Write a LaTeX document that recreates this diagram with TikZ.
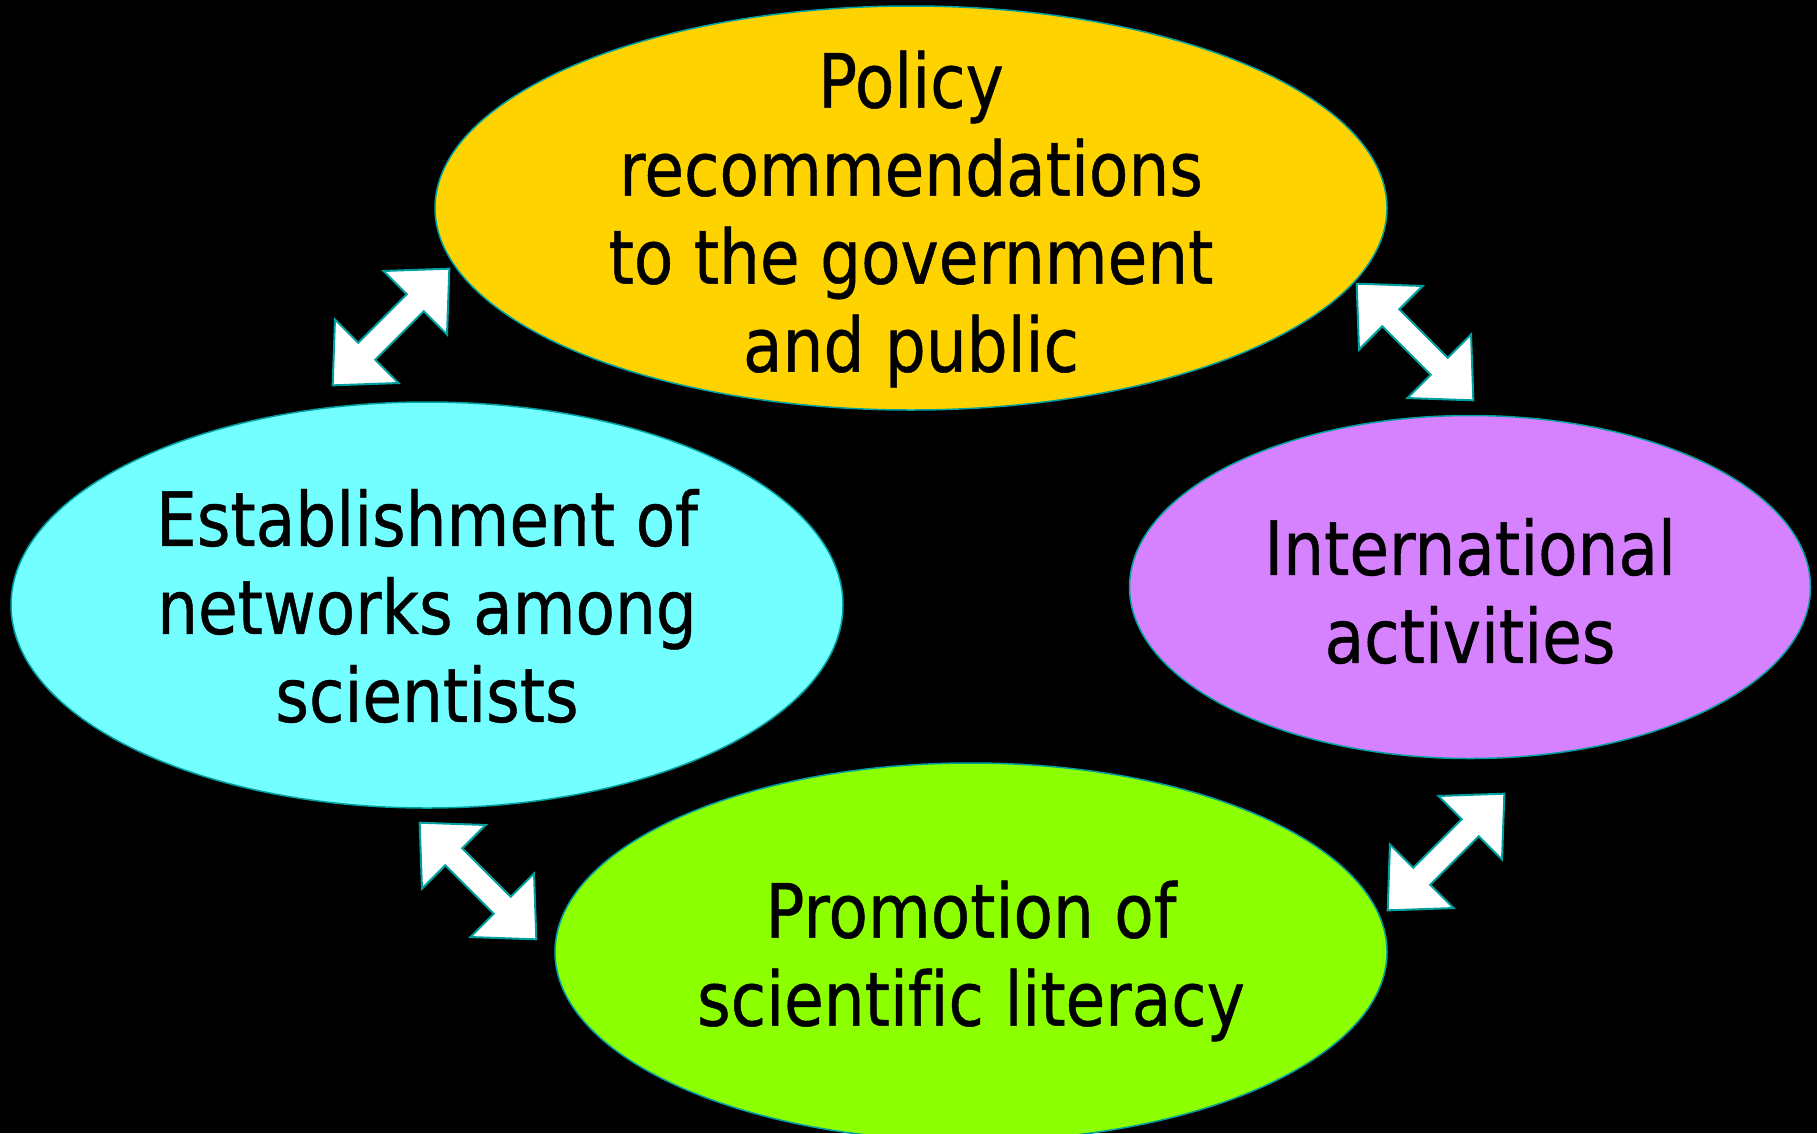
\documentclass[tikz,border=0pt]{standalone}
\usepackage{fontspec}
\setmainfont[FakeStretch=0.86,FakeBold=0.6,Ligatures=NoCommon]{DejaVu Sans}
\usetikzlibrary{shapes.geometric,shapes.arrows}
\definecolor{rim}{RGB}{0,160,160}
\definecolor{sun}{RGB}{255,211,0}
\definecolor{sky}{RGB}{115,255,255}
\definecolor{lilac}{RGB}{214,130,255}
\definecolor{lime}{RGB}{140,255,0}

\begin{document}
\begin{tikzpicture}[x=1pt,y=-1pt,
  blob/.style={ellipse,draw=rim,line width=1.5pt,inner sep=0pt},
  caption/.style={align=center,inner sep=0pt,font=\fontsize{75}{88}\selectfont},
  link/.style={double arrow,draw=rim,line width=2pt,fill=white,inner sep=11pt,
    minimum width=88pt,minimum height=165pt,
    double arrow head extend=33pt,double arrow tip angle=86}]
\useasboundingbox (0,0) rectangle (1817,1133);
\fill[black] (0,0) rectangle (1817,1133);
% ellipses
\node[blob,fill=sun,minimum width=952pt,minimum height=404pt] (policy) at (911,208) {};
\node[blob,fill=sky,minimum width=832pt,minimum height=406pt] (network) at (427,605) {};
\node[blob,fill=lilac,minimum width=681pt,minimum height=343pt] (intl) at (1470,587) {};
\node[blob,fill=lime,minimum width=832pt,minimum height=378pt] (literacy) at (971,952) {};
\node[caption] (policytext) at (911,219) {Policy\\recommendations\\to the government\\and public};
\node[caption] (networktext) at (427,606) {Establishment of\\networks among\\scientists};
\node[caption] (intltext) at (1470,591) {International\\activities};
\node[caption] (literacytext) at (971,961) {Promotion of\\scientif{}ic literacy};
% arrows
\node[link,rotate=45] (policynet) at (391,327) {};
\node[link,rotate=-45] (policyintl) at (1415,342) {};
\node[link,rotate=-45] (netlit) at (478,881) {};
\node[link,rotate=45] (intllit) at (1446,852) {};
\end{tikzpicture}
\end{document}
